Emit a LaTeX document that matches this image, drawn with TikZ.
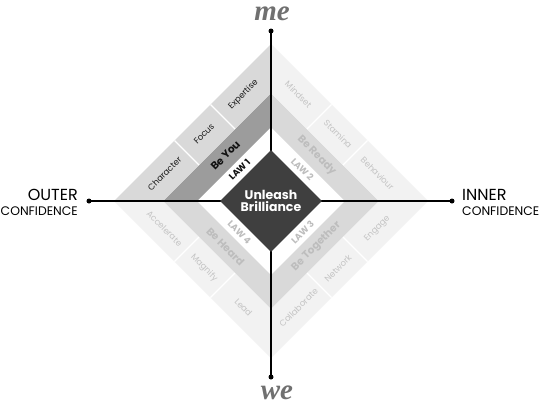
\documentclass[tikz,border=0pt]{standalone}
\usepackage{fontspec}
\usetikzlibrary{shapes.geometric}
\setmainfont{Poppins}
\newfontfamily\handfont{Liberation Serif}
\definecolor{darkc}{HTML}{3F3F3F}
\definecolor{q1L}{HTML}{D9D9D9}
\definecolor{q1M}{HTML}{9C9C9C}
\definecolor{q1T}{HTML}{1A1A1A}
\definecolor{q1B}{HTML}{111111}
\definecolor{q1W}{HTML}{111111}
\definecolor{q2L}{HTML}{F2F2F2}
\definecolor{q2M}{HTML}{D9D9D9}
\definecolor{q2T}{HTML}{C4C4C4}
\definecolor{q2B}{HTML}{BDBDBD}
\definecolor{q2W}{HTML}{BDBDBD}
\colorlet{q3L}{q2L}\colorlet{q3M}{q2M}\colorlet{q3T}{q2T}\colorlet{q3B}{q2B}\colorlet{q3W}{q2W}
\colorlet{q4L}{q2L}\colorlet{q4M}{q2M}\colorlet{q4T}{q2T}\colorlet{q4B}{q2B}\colorlet{q4W}{q2W}
\definecolor{scriptc}{HTML}{707070}
\tikzset{
  divider/.style={white, line width=1.2pt},
  celltext/.style={font=\fontsize{8.5}{10}\selectfont, inner sep=0pt},
  bandtext/.style={font=\fontsize{10.5}{12}\selectfont\bfseries, inner sep=0pt},
  lawtext/.style={font=\fontsize{9}{10}\selectfont\bfseries, inner sep=0pt},
  axisline/.style={black, line width=1.5pt},
  enddot/.style={circle, fill=black, inner sep=0pt, minimum size=5pt},
  sidebig/.style={font=\fontsize{16}{18}\selectfont, inner sep=0pt},
  sidesmall/.style={font=\fontsize{12.4}{14}\selectfont, inner sep=0pt},
  scripttext/.style={font=\handfont\bfseries\itshape\fontsize{29}{30}\selectfont, text=scriptc, inner sep=0pt, text height=14pt, text depth=0pt},
}
% #1 prefix, #2 sx, #3 sy, #4 law, #5 band, #6 cell near horizontal axis, #7 middle cell, #8 cell near vertical axis
\newcommand\myquadrant[8]{%
  \pgfmathsetmacro\ang{-45*#2*#3}%
  \fill[#1M] (#2*74,0) -- (#2*108,0) -- (0,#3*108) -- (0,#3*74) -- cycle;
  \fill[#1L] (#2*108,0) -- (#2*157,0) -- (0,#3*157) -- (0,#3*108) -- cycle;
  \draw[divider] (#2*72,#3*36) -- (#2*96.5,#3*60.5);
  \draw[divider] (#2*36,#3*72) -- (#2*60.5,#3*96.5);
  \node[lawtext, text=#1W, rotate=\ang] (#1law) at (#2*31.5,#3*31.5) {#4};
  \node[bandtext, text=#1B, rotate=\ang] (#1band) at (#2*45.5,#3*45.5) {#5};
  \node[celltext, text=#1T, rotate=\ang] (#1a) at (#2*106.5,#3*27.5) {#6};
  \node[celltext, text=#1T, rotate=\ang] (#1b) at (#2*67,#3*67) {#7};
  \node[celltext, text=#1T, rotate=\ang] (#1c) at (#2*27.5,#3*106.5) {#8};
}
\begin{document}
\begin{tikzpicture}[x=1pt, y=1pt]
\useasboundingbox (-271,-204) rectangle (269,201);
\fill[white] (-271,-204) rectangle (269,201);
\myquadrant{q1}{-1}{1}{LAW 1}{Be You}{Character}{Focus}{Expertise}
\myquadrant{q2}{1}{1}{LAW 2}{Be Ready}{Behaviour}{Stamina}{Mindset}
\myquadrant{q3}{1}{-1}{LAW 3}{Be Together}{Engage}{Network}{Collaborate}
\myquadrant{q4}{-1}{-1}{LAW 4}{Be Heard}{Accelerate}{Magnify}{Lead}
% axes
\node[enddot] (top) at (0,170) {};
\node[enddot] (bottom) at (0,-176) {};
\node[enddot] (left) at (-182,0) {};
\node[enddot] (right) at (181,0) {};
\draw[axisline] (top.center) -- (bottom.center);
\draw[axisline] (left.center) -- (right.center);
% centre
\node[diamond, fill=darkc, minimum width=102pt, minimum height=102pt, inner sep=0pt, shape aspect=1] (centre) at (0,0) {};
\node[font=\fontsize{12.5}{13}\selectfont\bfseries, text=white, align=center, inner sep=0pt] (brill) at (0,0) {Unleash\\[-1pt]Brilliance};
% side labels
\node[sidebig, anchor=base east] (outer) at (-193,1) {OUTER};
\node[sidesmall, anchor=base east] (outerc) at (-193,-14) {CONFIDENCE};
\node[sidebig, anchor=base west] (inner) at (191,1) {INNER};
\node[sidesmall, anchor=base west] (innerc) at (191,-14) {CONFIDENCE};
\node[scripttext, anchor=base] (me) at (1,181) {me};
\node[scripttext, anchor=base] (we) at (6,-198) {we};
\end{tikzpicture}
\end{document}
